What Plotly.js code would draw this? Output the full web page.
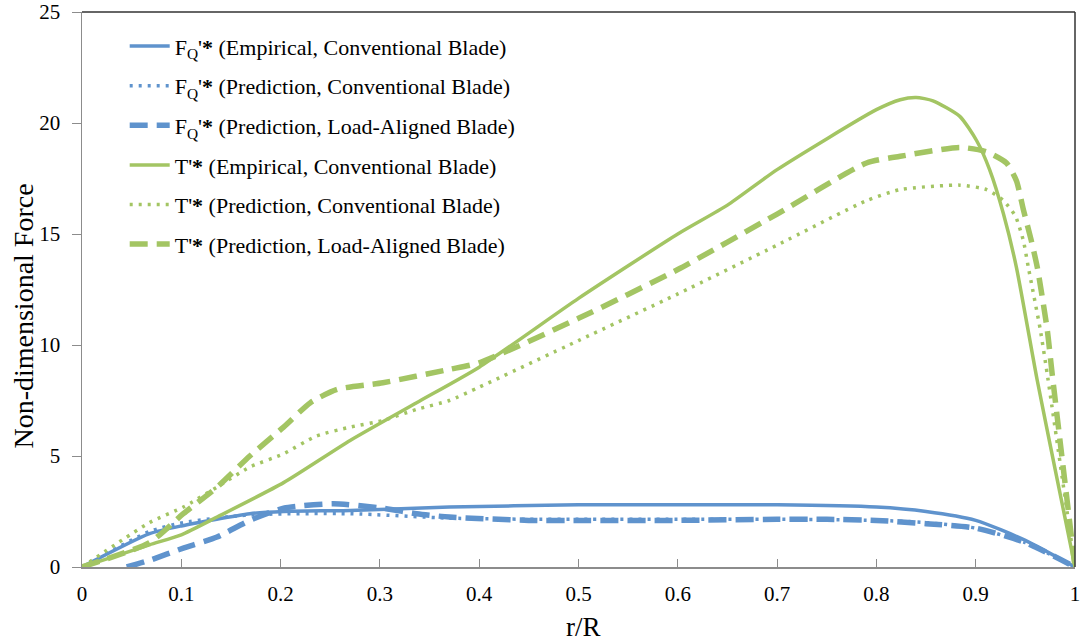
<!DOCTYPE html>
<html>
<head>
<meta charset="utf-8">
<script src="https://cdn.plot.ly/plotly-3.0.1.min.js"></script>
<style>html,body{margin:0;padding:0;background:#fff;}#chart{width:1081px;height:644px;}</style>
</head>
<body>
<div id="chart"></div>
<script>
// F_Q'* empirical, conventional blade
const fqEmpX = [0, 0.068, 0.1, 0.169, 0.203, 0.27, 0.37, 0.5, 0.6, 0.7, 0.8, 0.85, 0.9, 0.95, 1.0];
const fqEmpY = [0, 1.5, 1.85, 2.4, 2.5, 2.55, 2.7, 2.8, 2.8, 2.8, 2.7, 2.5, 2.1, 1.2, 0];
// F_Q'* prediction, conventional blade
const fqPredX = [0, 0.068, 0.102, 0.169, 0.27, 0.37, 0.45, 0.5, 0.6, 0.7, 0.8, 0.85, 0.9, 0.95, 1.0];
const fqPredY = [0, 1.6, 2.0, 2.35, 2.4, 2.2, 2.15, 2.15, 2.15, 2.15, 2.1, 2.0, 1.75, 1.1, 0];
// F_Q'* prediction, load-aligned blade
const fqLAX = [0.045, 0.068, 0.102, 0.136, 0.169, 0.203, 0.253, 0.303, 0.337, 0.37, 0.45, 0.5, 0.6, 0.7, 0.75, 0.8, 0.85, 0.9, 0.95, 1.0];
const fqLAY = [0, 0.3, 0.85, 1.35, 2.1, 2.65, 2.85, 2.65, 2.4, 2.25, 2.1, 2.1, 2.1, 2.15, 2.15, 2.1, 1.95, 1.75, 1.1, 0];
// T'* empirical, conventional blade
const tEmpX = [0, 0.068, 0.1, 0.136, 0.203, 0.27, 0.337, 0.4, 0.5, 0.6, 0.65, 0.7, 0.8, 0.824, 0.84, 0.857, 0.884, 0.901, 0.914, 0.928, 0.941, 0.962, 0.98, 1.0];
const tEmpY = [0, 1.0, 1.45, 2.25, 3.8, 5.7, 7.4, 9.0, 12.1, 15.0, 16.3, 17.9, 20.6, 21.05, 21.15, 21.0, 20.3, 19.2, 17.9, 15.9, 13.5, 8.4, 4.4, 0];
// T'* prediction, conventional blade
const tPredX = [0, 0.068, 0.102, 0.136, 0.169, 0.203, 0.236, 0.27, 0.303, 0.337, 0.37, 0.4, 0.5, 0.6, 0.7, 0.79, 0.824, 0.884, 0.911, 0.928, 0.94, 0.948, 0.953, 0.965, 0.972, 1.0];
const tPredY = [0, 2.0, 2.7, 3.6, 4.5, 5.1, 5.9, 6.3, 6.6, 7.1, 7.5, 8.1, 10.2, 12.3, 14.5, 16.5, 17.0, 17.2, 17.0, 16.5, 15.8, 14.7, 13.5, 10.7, 8.7, 0];
// T'* prediction, load-aligned blade
const tLAX = [0, 0.068, 0.102, 0.136, 0.169, 0.203, 0.23, 0.257, 0.303, 0.37, 0.4, 0.5, 0.6, 0.7, 0.79, 0.824, 0.884, 0.911, 0.931, 0.941, 0.948, 0.956, 0.962, 0.972, 0.977, 1.0];
const tLAY = [0, 1.1, 2.4, 3.6, 5.0, 6.3, 7.4, 8.0, 8.3, 8.9, 9.2, 11.2, 13.4, 15.9, 18.2, 18.5, 18.9, 18.7, 18.2, 17.4, 16.1, 14.7, 13.5, 10.7, 8.7, 0];

const xTicks = [0, 0.1, 0.2, 0.3, 0.4, 0.5, 0.6, 0.7, 0.8, 0.9, 1];
const xTickText = ['0', '0.1', '0.2', '0.3', '0.4', '0.5', '0.6', '0.7', '0.8', '0.9', '1'];
const yTicks = [0, 5, 10, 15, 20, 25];
const xTitle = 'r/R';
const yTitle = 'Non-dimensional Force';

const seriesNames = [
  "F<sub>Q</sub>'<b>*</b> (Empirical, Conventional Blade)",
  "F<sub>Q</sub>'<b>*</b> (Prediction, Conventional Blade)",
  "F<sub>Q</sub>'<b>*</b> (Prediction, Load-Aligned Blade)",
  "T'<b>*</b> (Empirical, Conventional Blade)",
  "T'<b>*</b> (Prediction, Conventional Blade)",
  "T'<b>*</b> (Prediction, Load-Aligned Blade)"
];

const BLUE = '#5F93CD';
const GREEN = '#A3C563';
const SOLID = {w: 3.5, dash: 'solid'};
const DOT = {w: 3.5, dash: '3px,6px'};
const DASH = {w: 5.5, dash: '18px,9px'};

function tr(x, y, name, color, st, i) {
  return {
    x: x, y: y, name: name, type: 'scatter', mode: 'lines',
    legendgroup: 'g' + i,
    line: {color: color, width: st.w, dash: st.dash, shape: 'spline', smoothing: 0.6},
    cliponaxis: true
  };
}

const data = [
  tr(fqEmpX, fqEmpY, seriesNames[0], BLUE, SOLID, 0),
  tr(fqPredX, fqPredY, seriesNames[1], BLUE, DOT, 1),
  tr(fqLAX, fqLAY, seriesNames[2], BLUE, DASH, 2),
  tr(tEmpX, tEmpY, seriesNames[3], GREEN, SOLID, 3),
  tr(tPredX, tPredY, seriesNames[4], GREEN, DOT, 4),
  tr(tLAX, tLAY, seriesNames[5], GREEN, DASH, 5)
];

const FONT = "'Liberation Serif', 'Times New Roman', serif";

const layout = {
  width: 1081, height: 644,
  margin: {l: 82, r: 6, t: 12, b: 77},
  paper_bgcolor: '#fff', plot_bgcolor: '#fff',
  font: {family: FONT, color: '#000', size: 18},
  showlegend: true,
  legend: {
    x: 0.043, y: 0.976, xanchor: 'left', yanchor: 'top',
    traceorder: 'grouped', tracegroupgap: 8,
    font: {family: FONT, size: 22, color: '#000'},
    bgcolor: 'rgba(0,0,0,0)', itemwidth: 40
  },
  xaxis: {
    range: [0, 1], tickvals: xTicks, ticktext: xTickText,
    showgrid: false, zeroline: false,
    showline: true, linecolor: '#8c8c8c', linewidth: 1.5,
    ticks: 'inside', ticklen: 8, tickcolor: '#8c8c8c', tickwidth: 1,
    ticklabelstandoff: 7,
    tickfont: {family: FONT, size: 21, color: '#000'}
  },
  yaxis: {
    range: [0, 25], tickvals: yTicks,
    showgrid: false, zeroline: false,
    showline: true, linecolor: '#8c8c8c', linewidth: 1.5,
    ticks: 'outside', ticklen: 9, tickcolor: '#8c8c8c', tickwidth: 1,
    ticklabelstandoff: 7,
    tickfont: {family: FONT, size: 21, color: '#000'}
  },
  annotations: [
    {text: xTitle, xref: 'paper', yref: 'paper', x: 0.505, y: -0.108, xanchor: 'center', yanchor: 'middle',
     showarrow: false, font: {family: FONT, size: 27, color: '#000'}},
    {text: yTitle, xref: 'paper', yref: 'paper', x: -0.059, y: 0.452, xanchor: 'center', yanchor: 'middle',
     textangle: -90, showarrow: false, font: {family: FONT, size: 28, color: '#000'}}
  ],
  shapes: [
    {type: 'line', xref: 'paper', yref: 'paper', x0: 0, x1: 1, y0: 1, y1: 1, line: {color: '#333', width: 1.5}},
    {type: 'line', xref: 'paper', yref: 'paper', x0: 1, x1: 1, y0: 0, y1: 1, line: {color: '#333', width: 1.5}}
  ]
};

Plotly.newPlot('chart', data, layout, {displayModeBar: false, staticPlot: true});
</script>
</body>
</html>
